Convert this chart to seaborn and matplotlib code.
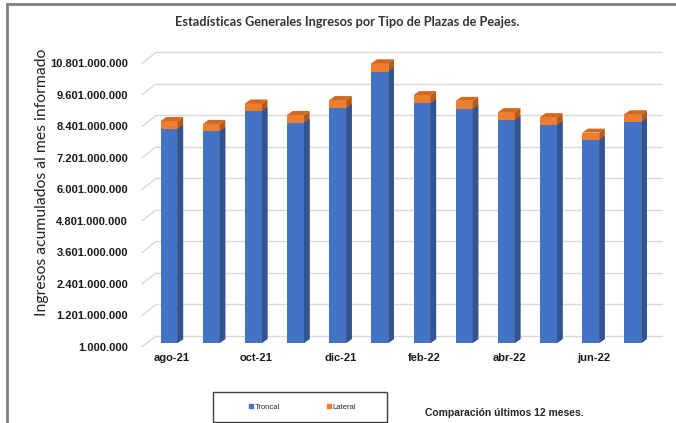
import numpy as np
import pandas as pd
import matplotlib
matplotlib.use("Agg")
import matplotlib.pyplot as plt
import seaborn as sns
from matplotlib.patches import Polygon, Rectangle
from matplotlib.lines import Line2D

# datos (miles de millones)
months = ['ago-21', 'sep-21', 'oct-21', 'nov-21', 'dic-21', 'ene-22',
          'feb-22', 'mar-22', 'abr-22', 'may-22', 'jun-22', 'jul-22']
troncal = [8.16, 8.06, 8.83, 8.39, 8.95, 10.33, 9.12, 8.91, 8.49, 8.29, 7.73, 8.42]
lateral = [0.29, 0.28, 0.29, 0.29, 0.30, 0.32, 0.32, 0.31, 0.30, 0.31, 0.28, 0.29]
y_ticks = [1e6 + 1.2e9 * i for i in range(10)]

df = pd.DataFrame({'mes': months,
                   'Troncal': np.array(troncal) * 1e9,
                   'Lateral': np.array(lateral) * 1e9})
df['total'] = df['Troncal'] + df['Lateral']

blue, blue_side = '#4472C4', '#2F5597'
orange, orange_side, orange_top = '#ED7D31', '#B85A17', '#D2691E'

sns.set_theme(style='white')
plt.rcParams['font.family'] = ['Liberation Sans', 'DejaVu Sans']

W, H = 676, 423
fig = plt.figure(figsize=(W / 100, H / 100), dpi=100)
ax = fig.add_axes([142 / W, 1 - 347 / H, 506 / W, (347 - 63.3) / H])

sns.barplot(data=df, x='mes', y='total', color=orange, saturation=1, width=0.4, ax=ax)
sns.barplot(data=df, x='mes', y='Troncal', color=blue, saturation=1, width=0.4, ax=ax)
ax.set_xlim(-0.5, 11.5)
ax.set_ylim(y_ticks[0], y_ticks[-1])

# pixel -> data
kx = 12 / 506
ky = (y_ticks[-1] - y_ticks[0]) / (347 - 63.3)

# bars sit a bit inside the box (3D look)
ox, oy = 6 * kx, 4 * ky
sx, sy = 5.6 * kx, 4 * ky
for p in ax.patches:
    p.set_x(p.get_x() + ox)
    p.set_y(p.get_y() + oy)
    p.set_linewidth(0)

n = len(months)
orange_bars = ax.patches[:n]
blue_bars = ax.patches[n:]
for p in orange_bars:
    x, y, w, h = p.get_x(), p.get_y(), p.get_width(), p.get_height()
    ax.add_patch(Polygon([(x + w, y), (x + w + sx, y + sy), (x + w + sx, y + h + sy), (x + w, y + h)],
                         closed=True, color=orange_side, lw=0, zorder=1.1, clip_on=False))
    ax.add_patch(Polygon([(x, y + h), (x + w, y + h), (x + w + sx, y + h + sy), (x + sx, y + h + sy)],
                         closed=True, color=orange_top, lw=0, zorder=1.1, clip_on=False))
for p in blue_bars:
    x, y, w, h = p.get_x(), p.get_y(), p.get_width(), p.get_height()
    ax.add_patch(Polygon([(x + w, y), (x + w + sx, y + sy), (x + w + sx, y + h + sy), (x + w, y + h)],
                         closed=True, color=blue_side, lw=0, zorder=1.2, clip_on=False))

# back wall gridlines + left wall diagonals
dxw, dyw = 14 * kx, 11 * ky
for v in y_ticks:
    ax.plot([-0.5 + dxw, 11.5 + dxw], [v + dyw, v + dyw], color='#d9d9d9', lw=1,
            zorder=0.5, clip_on=False)
    ax.plot([-0.5, -0.5 + dxw], [v, v + dyw], color='#d9d9d9', lw=1,
            zorder=0.5, clip_on=False)

for s in ax.spines.values():
    s.set_visible(False)
ax.set_xlabel('')
ax.set_ylabel('')

ax.set_yticks(y_ticks)
ax.set_yticklabels([f"{int(v):,}".replace(',', '.') for v in y_ticks],
                   fontweight='bold', fontsize=8, color='#1a1a1a')
ax.set_xticks([i + 8.6 * kx for i in range(0, n, 2)])
ax.set_xticklabels(months[::2], fontweight='bold', fontsize=8, color='#1a1a1a')
ax.tick_params(axis='y', length=0, pad=10)
ax.tick_params(axis='x', length=0, pad=4.5)

fig.text(347 / W, 1 - 22 / H, 'Estadísticas Generales Ingresos por Tipo de Plazas de Peajes.',
         ha='center', va='center', fontsize=9.2, fontweight='bold', family='Lato', color='#333333')
fig.text(42 / W, 1 - 182.5 / H, 'Ingresos acumulados al mes informado', rotation=90,
         ha='center', va='center', fontsize=11.3, family='Lato', color='#262626')
fig.text(425 / W, 1 - 412.7 / H, 'Comparación últimos 12 meses.', ha='left', va='center',
         fontsize=7.5, fontweight='bold', color='#262626')

# legend box
fig.patches.append(Rectangle((213 / W, 1 - 422 / H), 174 / W, 30 / H, fill=False,
                             edgecolor='#404040', lw=1, transform=fig.transFigure))
handles = [Line2D([], [], marker='s', ls='', color=blue, markersize=2.5),
           Line2D([], [], marker='s', ls='', color=orange, markersize=2.5)]
fig.legend(handles, ['Troncal', 'Lateral'], loc='center', bbox_to_anchor=(302 / W, 1 - 407 / H),
           ncol=2, frameon=False, fontsize=5.5, handletextpad=0.1, columnspacing=6,
           handlelength=0.8)

# outer frame
fig.add_artist(Line2D([6.5 / W, 6.5 / W], [0, 1 - 4 / H], color='#7f7f7f', lw=2,
                      transform=fig.transFigure))
fig.add_artist(Line2D([6.5 / W, 1], [1 - 4 / H, 1 - 4 / H], color='#7f7f7f', lw=2,
                      transform=fig.transFigure))

fig.savefig('out.png', dpi=100)
